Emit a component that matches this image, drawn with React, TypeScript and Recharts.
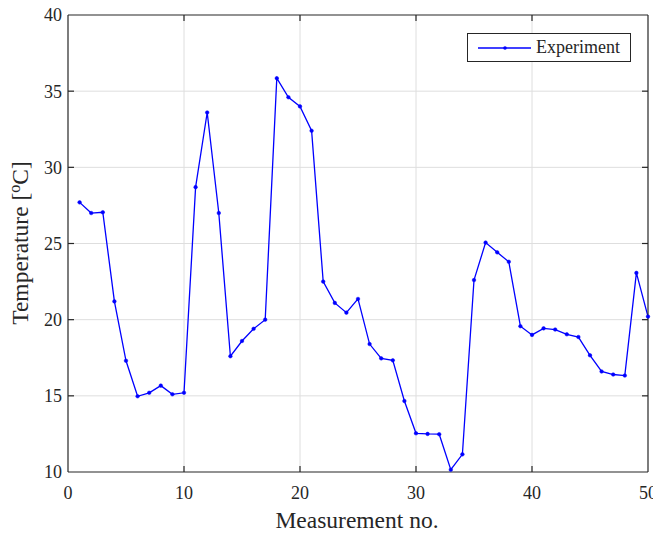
import React from 'react';
import { LineChart, Line, XAxis, YAxis, ReferenceLine } from 'recharts';

const measurementNo = [
  1, 2, 3, 4, 5, 6, 7, 8, 9, 10, 11, 12, 13, 14, 15, 16, 17, 18, 19, 20, 21, 22, 23, 24, 25,
  26, 27, 28, 29, 30, 31, 32, 33, 34, 35, 36, 37, 38, 39, 40, 41, 42, 43, 44, 45, 46, 47, 48, 49, 50,
];
const temperature = [
  27.7, 27.0, 27.05, 21.2, 17.3, 14.97, 15.2, 15.67, 15.1, 15.2,
  28.7, 33.6, 27.0, 17.6, 18.6, 19.4, 20.0, 35.85, 34.6, 34.0,
  32.4, 22.5, 21.1, 20.46, 21.36, 18.4, 17.46, 17.33, 14.66, 12.54,
  12.5, 12.48, 10.15, 11.16, 22.6, 25.06, 24.42, 23.8, 19.57, 19.0,
  19.43, 19.35, 19.04, 18.86, 17.66, 16.6, 16.4, 16.33, 23.07, 20.2,
];
const xTicks = [0, 10, 20, 30, 40, 50];
const yTicks = [10, 15, 20, 25, 30, 35, 40];
const xGrid = [10, 20, 30, 40];
const yGrid = [15, 20, 25, 30, 35];

const data = measurementNo.map((n, i) => ({ n, temp: temperature[i] }));

const FONT = '"Liberation Serif", "Times New Roman", serif';
const AXIS = '#262626';
const GRID = '#dedede';
const BLUE = '#0000ff';
const TICK = 6;

// light grid line with short dark ticks at both ends (matlab style inward ticks)
const GridWithTicks = (props: any) => {
  const { x1, y1, x2, y2 } = props;
  if (Math.abs(x1 - x2) < 0.5) {
    const top = Math.min(y1, y2);
    const bot = Math.max(y1, y2);
    return (
      <g>
        <line x1={x1} y1={top} x2={x1} y2={bot} stroke={GRID} strokeWidth={1} />
        <line x1={x1} y1={top} x2={x1} y2={top + TICK} stroke={AXIS} strokeWidth={1.2} />
        <line x1={x1} y1={bot - TICK} x2={x1} y2={bot} stroke={AXIS} strokeWidth={1.2} />
      </g>
    );
  }
  const left = Math.min(x1, x2);
  const right = Math.max(x1, x2);
  return (
    <g>
      <line x1={left} y1={y1} x2={right} y2={y1} stroke={GRID} strokeWidth={1} />
      <line x1={left} y1={y1} x2={left + TICK} y2={y1} stroke={AXIS} strokeWidth={1.2} />
      <line x1={right - TICK} y1={y1} x2={right} y2={y1} stroke={AXIS} strokeWidth={1.2} />
    </g>
  );
};

const XLabel = () => (
  <text x={357} y={528} textAnchor="middle" fontFamily={FONT} fontSize={23.5} fill={AXIS}>
    Measurement no.
  </text>
);

const YLabel = () => (
  <text
    x={0}
    y={0}
    transform="translate(28, 243) rotate(-90)"
    textAnchor="middle"
    fontFamily={FONT}
    fontSize={23.5}
    fill={AXIS}
  >
    Temperature [
    <tspan fontSize={16} dy={-8}>o</tspan>
    <tspan dy={8}>C]</tspan>
  </text>
);

const App: React.FC = () => {
  const tickStyle = { fontFamily: FONT, fontSize: 18, fill: AXIS };
  return (
    <div style={{ position: 'relative', width: 661, height: 536, margin: -8 }}>
      <LineChart
        width={661}
        height={536}
        data={data}
        margin={{ top: 15, right: 13, left: 0, bottom: 0 }}
      >
        <XAxis
          dataKey="n"
          type="number"
          domain={[0, 50]}
          ticks={xTicks}
          height={64}
          tickSize={-6}
          tickMargin={20}
          tick={tickStyle}
          axisLine={false}
          tickLine={false}
          label={{ content: () => <XLabel /> }}
        />
        <YAxis
          type="number"
          domain={[10, 40]}
          ticks={yTicks}
          width={68}
          tickSize={-6}
          tickMargin={12}
          tick={tickStyle}
          axisLine={false}
          tickLine={false}
          label={{ content: () => <YLabel /> }}
        />
        {xGrid.map((v) => (
          <ReferenceLine key={`gx${v}`} x={v} shape={GridWithTicks} />
        ))}
        {yGrid.map((v) => (
          <ReferenceLine key={`gy${v}`} y={v} shape={GridWithTicks} />
        ))}
        <Line
          type="linear"
          dataKey="temp"
          stroke={BLUE}
          strokeWidth={1.3}
          dot={{ r: 1.8, fill: BLUE, stroke: BLUE, strokeWidth: 0.5 }}
          activeDot={false}
          isAnimationActive={false}
        />
        <ReferenceLine x={0} stroke={AXIS} strokeWidth={1.2} />
        <ReferenceLine x={50} stroke={AXIS} strokeWidth={1.2} />
        <ReferenceLine y={10} stroke={AXIS} strokeWidth={1.2} />
        <ReferenceLine y={40} stroke={AXIS} strokeWidth={1.2} />
      </LineChart>
      <div
        style={{
          position: 'absolute',
          left: 467,
          top: 33,
          width: 162,
          height: 27,
          border: `1px solid ${AXIS}`,
          background: 'white',
          display: 'flex',
          alignItems: 'center',
          fontFamily: FONT,
          fontSize: 18,
          color: AXIS,
        }}
      >
        <svg width={70} height={10} style={{ marginLeft: 10 }}>
          <line x1={0} y1={5} x2={53} y2={5} stroke={BLUE} strokeWidth={1.3} />
          <circle cx={27} cy={5} r={1.8} fill={BLUE} />
        </svg>
        <span style={{ marginLeft: -12 }}>Experiment</span>
      </div>
    </div>
  );
};

export default App;
